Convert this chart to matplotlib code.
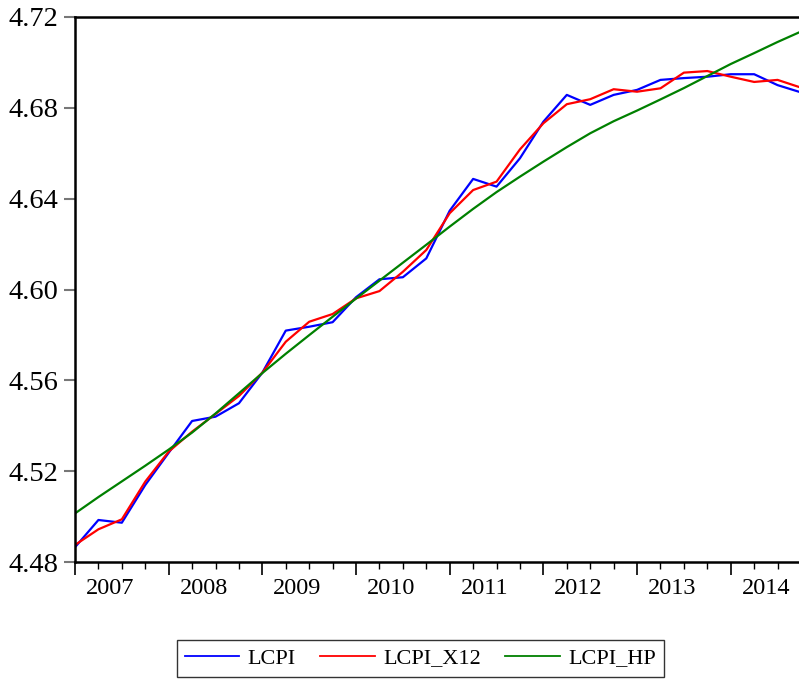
import matplotlib
matplotlib.use("Agg")
import matplotlib.pyplot as plt
import numpy as np

plt.rcParams['font.family'] = ['Liberation Serif', 'DejaVu Serif']

years = [2007, 2008, 2009, 2010, 2011, 2012, 2013, 2014]
# quarterly observations 2007Q1 .. 2014Q4
lcpi = [4.4865, 4.4985, 4.4973, 4.5139, 4.5281, 4.5421, 4.5440, 4.5499,
        4.5634, 4.5819, 4.5836, 4.5856, 4.5966, 4.6045, 4.6054, 4.6137,
        4.6347, 4.6487, 4.6453, 4.6578, 4.6739, 4.6857, 4.6813, 4.6857,
        4.6879, 4.6923, 4.6931, 4.6937, 4.6948, 4.6948, 4.6900, 4.6868]
lcpi_x12 = [4.4875, 4.4944, 4.4988, 4.5154, 4.5286, 4.5374, 4.5452, 4.5531,
            4.5634, 4.5770, 4.5858, 4.5892, 4.5961, 4.5993, 4.6078, 4.6174,
            4.6336, 4.6438, 4.6475, 4.6617, 4.6732, 4.6816, 4.6838, 4.6882,
            4.6871, 4.6886, 4.6955, 4.6962, 4.6937, 4.6914, 4.6923, 4.6889]
lcpi_hp = [4.5014, 4.5086, 4.5155, 4.5224, 4.5295, 4.5370, 4.5454, 4.5543,
           4.5632, 4.5717, 4.5799, 4.5880, 4.5960, 4.6039, 4.6118, 4.6197,
           4.6277, 4.6355, 4.6429, 4.6497, 4.6563, 4.6627, 4.6688, 4.6741,
           4.6788, 4.6837, 4.6887, 4.6940, 4.6993, 4.7041, 4.7090, 4.7136]
yticks = [4.48, 4.52, 4.56, 4.60, 4.64, 4.68, 4.72]

W, H = 799, 680
fig = plt.figure(figsize=(W / 100, H / 100), dpi=100)
left, right, top, bottom = 75, 801, 17, 562
ax = fig.add_axes([left / W, 1 - bottom / H, (right - left) / W, (bottom - top) / H])

x = np.arange(len(lcpi))
ax.plot(x, lcpi, color='#0000ff', lw=1.6, label='LCPI')
ax.plot(x, lcpi_x12, color='#ff0000', lw=1.6, label='LCPI_X12')
ax.plot(x, lcpi_hp, color='#008000', lw=1.6, label='LCPI_HP')

ax.set_xlim(0, len(lcpi) - 1)
ax.set_ylim(4.48, 4.72)
ax.set_yticks(yticks)
ax.set_yticklabels([f"{v:.2f}" for v in yticks], fontsize=20.5)
ax.tick_params(axis='y', direction='out', length=8, width=1.5, color='#777777', pad=4)

ax.set_xticks(np.arange(0, len(lcpi), 4))
ax.set_xticks(np.arange(0, len(lcpi)), minor=True)
ax.set_xticklabels([])
ax.tick_params(axis='x', which='major', direction='out', length=9.5, width=1.2, color='black')
ax.tick_params(axis='x', which='minor', direction='out', length=5, width=1.0, color='black')
trans = ax.get_xaxis_transform()
for i, yr in enumerate(years):
    ax.text(i * 4 + 1.5, -0.029, str(yr), transform=trans, ha='center', va='top', fontsize=17.5)

for s in ['top', 'left', 'bottom']:
    ax.spines[s].set_linewidth(1.8)
    ax.spines[s].set_color('black')
ax.spines['right'].set_visible(False)

leg = fig.legend(loc='upper center', bbox_to_anchor=(420.5 / W, 1 - 640 / H), ncol=3,
                 fontsize=16, frameon=True, fancybox=False, edgecolor='black',
                 handlelength=2.45, handletextpad=0.38, columnspacing=1.1,
                 borderpad=0.36, borderaxespad=0)
leg.get_frame().set_linewidth(1.0)
for l in leg.get_lines():
    l.set_linewidth(1.3)

fig.savefig('out.png', dpi=100)
